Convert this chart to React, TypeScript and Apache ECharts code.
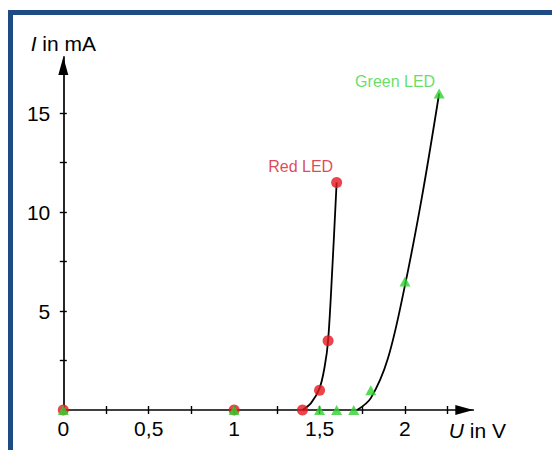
import React, { useEffect, useRef } from "react";
import * as echarts from "echarts";

// Measured points (U in V, I in mA)
const redU = [0, 1, 1.4, 1.5, 1.55, 1.6];
const redI = [0, 0, 0, 1, 3.5, 11.5];
const greenU = [0, 1, 1.5, 1.6, 1.7, 1.8, 2, 2.2];
const greenI = [0, 0, 0, 0, 0, 1, 6.5, 16];
// Fitted characteristic curves
const redCurveU = [1.4, 1.45, 1.5, 1.53, 1.55, 1.575, 1.6];
const redCurveI = [0, 0.35, 1.1, 2.2, 3.5, 7.2, 11.5];
const greenCurveU = [1.72, 1.8, 1.9, 2.0, 2.1, 2.2];
const greenCurveI = [0, 0.6, 2.6, 6.3, 10.8, 16];
// Axis ticks & labels
const xTicks = [0.25, 0.5, 0.75, 1, 1.25, 1.5, 1.75, 2, 2.25];
const xLabels = [0, 0.5, 1, 1.5, 2];
const yTicks = [2.5, 5, 7.5, 10, 12.5, 15];
const yLabels = [5, 10, 15];
const seriesNames = ["Red LED", "Green LED"];

const FONT = "'Liberation Sans', Arial, Helvetica, sans-serif";

export default function App() {
  const ref = useRef<HTMLDivElement>(null);
  useEffect(() => {
    document.body.style.margin = "0";
    if (!ref.current) return;
    const chart = echarts.init(ref.current, undefined, { renderer: "svg" });
    const zip = (u: number[], i: number[]) => u.map((v, k) => [v, i[k]]);
    const redPts = zip(redU, redI);
    const greenPts = zip(greenU, greenI);
    const lastLabel = (name: string, lastIndex: number, color: string, offset: number[]) => ({
      show: true,
      position: "inside",
      offset,
      color,
      fontSize: 16,
      fontFamily: FONT,
      formatter: (p: any) => (p.dataIndex === lastIndex ? name : ""),
    });
    const axisCommon = {
      type: "value",
      gridIndex: 0,
      splitLine: { show: false },
    };
    const arrowLine = {
      show: true,
      lineStyle: { color: "#000", width: 1.7 },
      symbol: ["none", "triangle"],
      symbolSize: [10, 18],
      symbolOffset: [0, -9],
    };
    chart.setOption({
      animation: false,
      backgroundColor: "#ffffff",
      grid: { left: 63.3, right: 78.7, top: 56.9, bottom: 40, containLabel: false },
      xAxis: [
        {
          ...axisCommon,
          min: 0,
          max: 2.4,
          position: "bottom",
          name: "{i|U} in V",
          nameLocation: "end",
          nameGap: 4,
          nameTextStyle: {
            color: "#000",
            fontSize: 21,
            fontFamily: FONT,
            align: "center",
            verticalAlign: "top",
            padding: [10, 0, 0, 0],
            rich: { i: { fontStyle: "italic", fontSize: 21, fontFamily: FONT, color: "#000" } },
          },
          axisLine: arrowLine,
          axisTick: { show: true, inside: false, length: 4, lineStyle: { color: "#000", width: 1.4 }, customValues: xTicks },
          axisLabel: {
            show: true,
            margin: 8,
            color: "#000",
            fontSize: 21,
            fontFamily: FONT,
            customValues: xLabels,
            formatter: (v: number) => String(v).replace(".", ","),
          },
        },
        {
          ...axisCommon,
          min: 0,
          max: 2.4,
          position: "bottom",
          axisLine: { show: false },
          axisTick: { show: true, inside: true, length: 4, lineStyle: { color: "#000", width: 1.4 }, customValues: xTicks },
          axisLabel: { show: false },
        },
      ],
      yAxis: [
        {
          ...axisCommon,
          min: 0,
          max: 17.85,
          position: "left",
          name: "{i|I} in mA",
          nameLocation: "end",
          nameGap: 3,
          nameTextStyle: {
            color: "#000",
            fontSize: 21,
            fontFamily: FONT,
            rich: { i: { fontStyle: "italic", fontSize: 21, fontFamily: FONT, color: "#000" } },
          },
          axisLine: arrowLine,
          axisTick: { show: true, inside: false, length: 3.5, lineStyle: { color: "#000", width: 1.4 }, customValues: yTicks },
          axisLabel: {
            show: true,
            margin: 13,
            color: "#000",
            fontSize: 21,
            fontFamily: FONT,
            customValues: yLabels,
          },
        },
        {
          ...axisCommon,
          min: 0,
          max: 17.85,
          position: "left",
          axisLine: { show: false },
          axisTick: { show: true, inside: true, length: 3.5, lineStyle: { color: "#000", width: 1.4 }, customValues: yTicks },
          axisLabel: { show: false },
        },
      ],
      graphic: [
        {
          type: "rect",
          silent: true,
          z: 100,
          shape: { x: 10.5, y: 12.5, width: 700, height: 600 },
          style: { fill: "none", stroke: "#1f4b84", lineWidth: 5 },
        },
      ],
      series: [
        {
          type: "line",
          name: "red curve",
          xAxisIndex: 0,
          yAxisIndex: 0,
          data: zip(redCurveU, redCurveI),
          smooth: 0.35,
          showSymbol: false,
          symbol: "none",
          lineStyle: { color: "#000", width: 1.8 },
          z: 2,
        },
        {
          type: "line",
          name: "green curve",
          xAxisIndex: 0,
          yAxisIndex: 0,
          data: zip(greenCurveU, greenCurveI),
          smooth: 0.35,
          showSymbol: false,
          symbol: "none",
          lineStyle: { color: "#000", width: 1.8 },
          z: 2,
        },
        {
          type: "scatter",
          name: seriesNames[0],
          xAxisIndex: 0,
          yAxisIndex: 0,
          data: redPts,
          symbol: "circle",
          symbolSize: 11,
          itemStyle: { color: "#e3161d" },
          label: lastLabel(seriesNames[0], redPts.length - 1, "#d4182a", [-36, -16]),
          z: 3,
        },
        {
          type: "scatter",
          name: seriesNames[1],
          xAxisIndex: 0,
          yAxisIndex: 0,
          data: greenPts,
          symbol: "triangle",
          symbolSize: [11, 10],
          itemStyle: { color: "#2fd12f" },
          label: lastLabel(seriesNames[1], greenPts.length - 1, "#3ed63e", [-44, -12]),
          z: 4,
        },
      ],
    });
    return () => chart.dispose();
  }, []);
  return <div ref={ref} style={{ width: 552, height: 450 }} />;
}
